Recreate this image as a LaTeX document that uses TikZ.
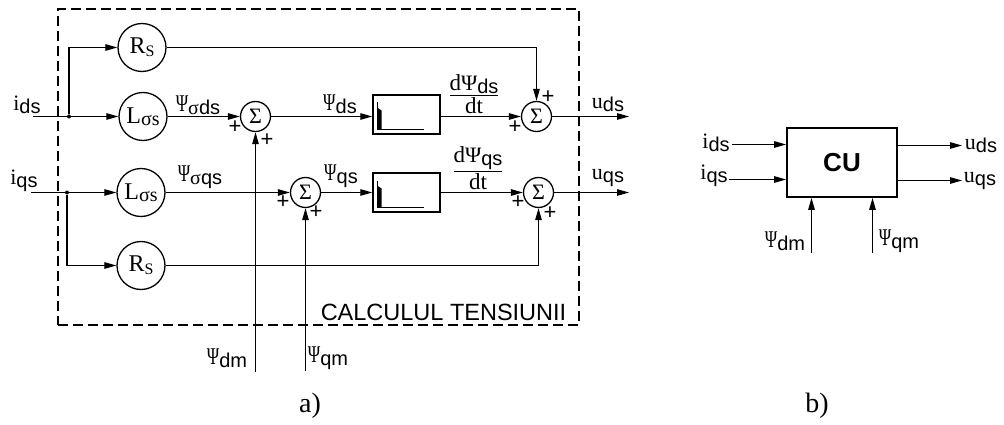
\documentclass[tikz,border=0pt]{standalone}
\usepackage{graphicx}
\usepackage{fontspec}
\setmainfont{Liberation Serif}
\setsansfont{Liberation Sans}
\usetikzlibrary{arrows.meta}

\newcommand{\fsize}[1]{\fontsize{#1}{#1}\selectfont}
\newcommand{\lab}[2]{{\fsize{22}#1}\raisebox{-0.15em}{\fsize{20}\sffamily #2}}
\newcommand{\psy}{\scalebox{0.7}[1]{\fsize{24}Ψ}}
\newcommand{\ratio}[2]{$\mbox{#1}\above 1.3pt\mbox{#2}$}

\begin{document}
\begin{tikzpicture}[
	x=1pt,
	y=-1pt,
	>={Triangle[length=12pt,width=6.5pt]},
	res/.style={
		circle,
		draw=black,
		line width=1.3pt,
		inner sep=0pt,
		minimum size=48pt,
		font=\fsize{24}
	},
	adder/.style={
		circle,
		draw=black,
		line width=1.3pt,
		inner sep=0pt,
		minimum size=30pt,
		font=\fsize{22}
	},
	integ/.style={
		rectangle,
		draw=black,
		line width=1.5pt,
		minimum width=67pt,
		minimum height=39pt
	},
	joint/.style={
		circle,
		fill=black,
		inner sep=0pt,
		minimum size=4pt
	},
	lbl/.style={
		inner sep=0pt,
		font=\fsize{20}
	},
	sgn/.style={
		inner sep=0pt,
		font=\fsize{22}\sffamily
	},
	wire/.style={
		line width=1.2pt
	},
]

\useasboundingbox (0,0) rectangle (1004,425);

\node[draw=black, line width=1.4pt, dash pattern=on 10pt off 5pt, minimum width=521pt, minimum height=316pt, inner sep=0pt] (frame) at (318.5,167) {};

\node[res] (rs_d) at (142,47.5) {R\raisebox{-0.12em}{\fsize{16}S}};
\node[res] (ls_d) at (143,116.5) {L\raisebox{-0.08em}{\fsize{20}σs}};
\node[res] (ls_q) at (141,192.5) {L\raisebox{-0.08em}{\fsize{20}σs}};
\node[res] (rs_q) at (141,265.5) {R\raisebox{-0.12em}{\fsize{16}S}};

\node[adder] (sum_dm) at (255.5,116.5) {Σ};
\node[adder] (sum_qm) at (305.5,192.5) {Σ};
\node[adder] (sum_ds) at (536.5,116.5) {Σ};
\node[adder] (sum_qs) at (538.5,192.5) {Σ};

\node[integ] (int_d) at (406.5,114.5) {};
\node[integ] (int_q) at (406.5,192.5) {};

\node[joint] (dot_d) at (69,116.5) {};
\node[joint] (dot_q) at (67,192.5) {};

\coordinate (in_d) at (33,116.5);
\coordinate (in_q) at (31,192.5);
\coordinate (out_d) at (629,116.5);
\coordinate (out_q) at (629,192.5);
\coordinate (in_dm) at (255.5,372);
\coordinate (in_qm) at (305.5,371);

% block a
\draw[wire] (in_d) -- (dot_d);
\draw[wire] (in_q) -- (dot_q);
\draw[wire,->] (dot_d) |- (rs_d);
\draw[wire,->] (dot_d) -- (ls_d);
\draw[wire,->] (dot_q) -- (ls_q);
\draw[wire,->] (dot_q) |- (rs_q);
\draw[wire,->] (ls_d) -- (sum_dm);
\draw[wire,->] (ls_q) -- (sum_qm);
\draw[wire,->] (in_dm) -- (sum_dm);
\draw[wire,->] (in_qm) -- (sum_qm);
\draw[wire,->] (sum_dm) -- (sum_dm -| int_d.west);
\draw[wire,->] (sum_qm) -- (int_q);
\draw[wire,->] (sum_ds -| int_d.east) -- (sum_ds);
\draw[wire,->] (int_q) -- (sum_qs);
\draw[wire,->] (rs_d) -| (sum_ds);
\draw[wire,->] (rs_q) -| (sum_qs);
\draw[wire,->] (sum_ds) -- (out_d);
\draw[wire,->] (sum_qs) -- (out_q);

% pulse inside the two blocks
\foreach \blk in {int_d,int_q} {
	\fill ([xshift=-29.5pt,yshift=7pt]\blk.center) -- ([xshift=-29.5pt,yshift=-14.5pt]\blk.center) -- ([xshift=-25pt,yshift=-14.5pt]\blk.center) -- ([xshift=-25pt,yshift=4pt]\blk.center) -- cycle;
	\draw[line width=0.8pt] ([xshift=-29.5pt,yshift=12pt]\blk.center) -- ([xshift=-29.5pt,yshift=-14.5pt]\blk.center) -- ([xshift=17.5pt,yshift=-14.5pt]\blk.center);
}

\node[lbl] (l_id) at (27,105) {\lab{i}{ds}};
\node[lbl] (l_iq) at (24,181) {\lab{i}{qs}};
\node[lbl] (l_pd) at (198,105) {\lab{\psy}{\textrm{σ}ds}};
\node[lbl] (l_pq) at (200,177) {\lab{\psy}{\textrm{σ}qs}};
\node[lbl] (l_fd) at (340,104) {\lab{\psy}{ds}};
\node[lbl] (l_fq) at (341,176) {\lab{\psy}{qs}};
\node[lbl,font=\fsize{23}] (l_dd) at (474,94) {\ratio{d\lab{Ψ}{ds}}{dt}};
\node[lbl,font=\fsize{23}] (l_dq) at (478,168) {\ratio{d\lab{Ψ}{qs}}{dt}};
\node[lbl] (l_ud) at (608,104) {\lab{u}{ds}};
\node[lbl] (l_uq) at (608,178) {\lab{u}{qs}};
\node[lbl] (l_dm) at (227,358) {\lab{\psy}{dm}};
\node[lbl] (l_qm) at (328,358) {\lab{\psy}{qm}};
\node[lbl,font=\fsize{23.5}\sffamily] (l_calc) at (443.5,312) {CALCULUL TENSIUNII};
\node[lbl,font=\fsize{28}] (l_a) at (310,406) {a)};

\node[sgn] (p1) at (235,127) {+};
\node[sgn] (p2) at (267,140) {+};
\node[sgn] (p3) at (283,202) {+};
\node[sgn] (p4) at (316,212) {+};
\node[sgn] (p5) at (515,127) {+};
\node[sgn] (p6) at (548,97) {+};
\node[sgn] (p7) at (518,202) {+};
\node[sgn] (p8) at (550,213) {+};

% block b
\node[draw=black, line width=1.8pt, minimum width=110pt, minimum height=69pt, inner sep=0pt, font=\fsize{26}\sffamily\bfseries] (cu) at (842,162.5) {CU};

\coordinate (cu_a) at (732,144.5);
\coordinate (cu_b) at (729,179.5);
\coordinate (cu_c) at (962,145.5);
\coordinate (cu_d) at (962,180.5);
\coordinate (cu_e) at (811.5,253);
\coordinate (cu_f) at (872.5,253);

\draw[wire,->] (cu_a) -- (cu_a -| cu.west);
\draw[wire,->] (cu_b) -- (cu_b -| cu.west);
\draw[wire,->] (cu_c -| cu.east) -- (cu_c);
\draw[wire,->] (cu_d -| cu.east) -- (cu_d);
\draw[wire,->] (cu_e) -- (cu_e |- cu.south);
\draw[wire,->] (cu_f) -- (cu_f |- cu.south);

\node[lbl] (b_id) at (716,143) {\lab{i}{ds}};
\node[lbl] (b_iq) at (714,176) {\lab{i}{qs}};
\node[lbl] (b_ud) at (981,145) {\lab{u}{ds}};
\node[lbl] (b_uq) at (980,181) {\lab{u}{qs}};
\node[lbl] (b_dm) at (785,241) {\lab{\psy}{dm}};
\node[lbl] (b_qm) at (899,241) {\lab{\psy}{qm}};
\node[lbl,font=\fsize{28}] (l_b) at (817,406) {b)};

\end{tikzpicture}
\end{document}
